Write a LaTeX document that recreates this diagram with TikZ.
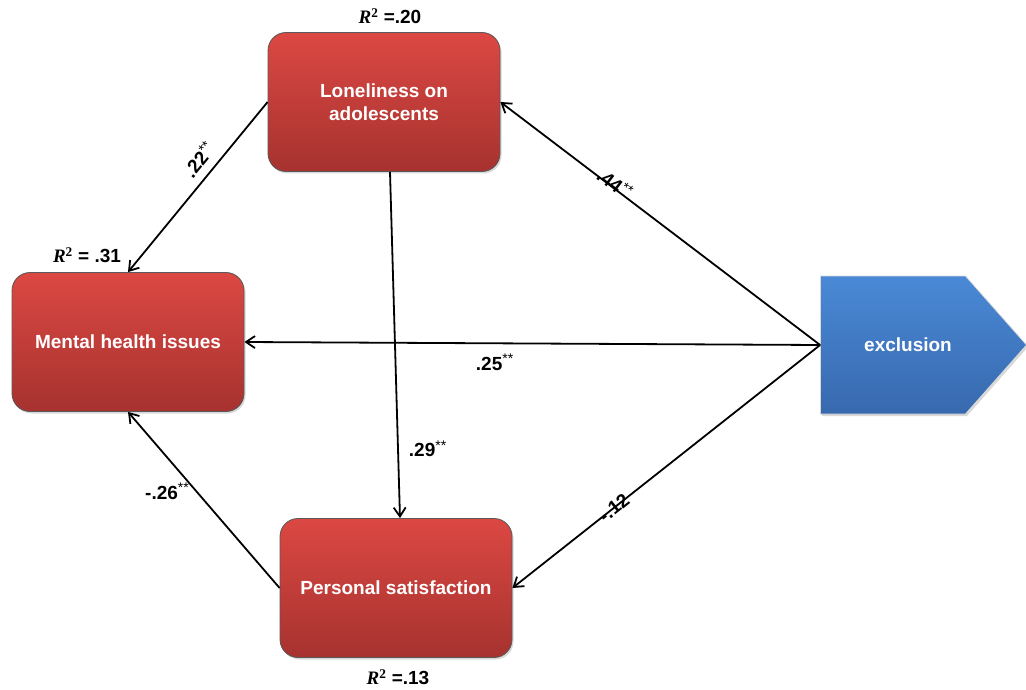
\documentclass[tikz,border=0pt]{standalone}
\usepackage{fontspec}
\setmainfont{Liberation Sans}
\newfontfamily\rsqfont{Liberation Serif}
\usetikzlibrary{arrows.meta,positioning,shapes.symbols,shadows}

\definecolor{redtop}{HTML}{DC4843}
\definecolor{redbot}{HTML}{A6322F}
\definecolor{bluetop}{HTML}{4A89D6}
\definecolor{bluebot}{HTML}{3769AE}

\newcommand\twostar{\textsuperscript{\mdseries\fontsize{14}{14}\selectfont **}}
\newcommand\rsq[1]{{\rsqfont\bfseries\itshape R}\textsuperscript{\rsqfont 2} #1}

\begin{document}
\begin{tikzpicture}[x=1pt,y=-1pt,
    var/.style={draw=black!65,line width=0.8pt,rounded corners=18pt,
      minimum width=232pt,minimum height=139pt,align=center,
      top color=redtop,bottom color=redbot,text=white,
      font=\bfseries\fontsize{19}{23}\selectfont,
      drop shadow={opacity=.3,shadow xshift=1.5pt,shadow yshift=-2pt}},
    src/.style={shape=signal,signal to=east,signal pointer angle=97,
      draw=white!85!black,line width=0.8pt,
      minimum width=206pt,minimum height=138pt,
      top color=bluetop,bottom color=bluebot,text=white,
      font=\bfseries\fontsize{19}{23}\selectfont,
      drop shadow={opacity=.3,shadow xshift=1.5pt,shadow yshift=-2pt}},
    link/.style={-{Straight Barb[length=9pt,width=12pt]},line width=1.8pt},
    coef/.style={font=\bfseries\fontsize{19}{22}\selectfont,inner sep=2pt},
    rlab/.style={font=\bfseries\fontsize{19}{22}\selectfont,inner sep=2pt}
  ]
    \useasboundingbox (0,0) rectangle (1026,690);
    \node[var] (lon) at (384,102) {Loneliness on\\adolescents};
    \node[var] (mh) at (128,342) {Mental health issues};
    \node[var] (ps) at (396,588) {Personal satisfaction};
    \node[src] (ex) at (893,345) {\hspace*{30pt}exclusion};
    \node[rlab] (rlon) at (390,16) {\rsq{=.20}};
    \node[rlab] (rmh) at (87,255) {\rsq{= .31}};
    \node[rlab] (rps) at (398,677) {\rsq{=.13}};
    \draw[link] (lon.west) -- node[coef,sloped,above,pos=.40,inner sep=8pt]{.22\twostar} (mh.north);
    \draw[link] ([xshift=6pt]lon.south) -- node[coef,right,pos=.8,xshift=8pt]{.29\twostar} ([xshift=4pt]ps.north);
    \draw[link] (ex.west) -- node[coef,sloped,above,pos=.65,inner sep=-4pt]{.44\twostar} (lon.east);
    \draw[link] (ex.west) -- node[coef,below,pos=.565,inner sep=10pt]{.25\twostar} (mh.east);
    \draw[link] (ex.west) -- node[coef,sloped,pos=.67,inner sep=0pt]{-.12} (ps.east);
    \draw[link] (ps.west) -- node[coef,left,pos=.55,inner sep=6pt]{-.26\twostar} (mh.south);
\end{tikzpicture}
\end{document}
